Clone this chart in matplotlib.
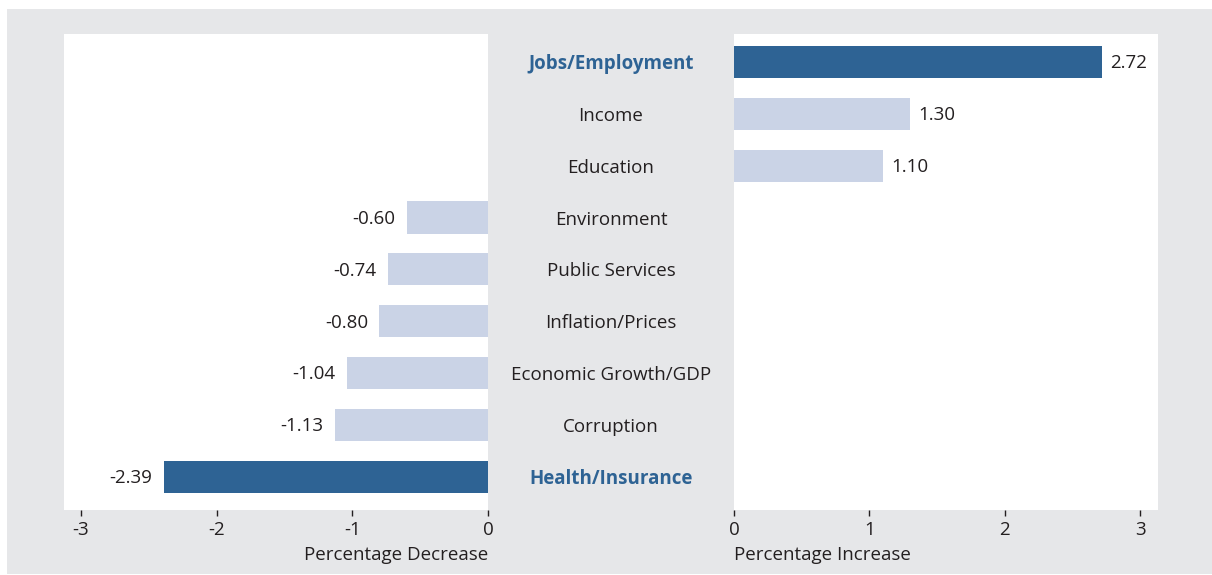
import matplotlib.pyplot as plt
from matplotlib.patches import Rectangle
from matplotlib.transforms import blended_transform_factory

plt.rcParams['font.family'] = ['Open Sans', 'DejaVu Sans']

categories = ['Jobs/Employment', 'Income', 'Education', 'Environment',
              'Public Services', 'Inflation/Prices', 'Economic Growth/GDP',
              'Corruption', 'Health/Insurance']
values = [2.72, 1.30, 1.10, -0.60, -0.74, -0.80, -1.04, -1.13, -2.39]
highlight = ['Jobs/Employment', 'Health/Insurance']

dark_blue = '#2e6394'
light_blue = '#cad3e6'
bg_gray = '#e6e7e9'
text_col = '#231f20'
fs = 13.5

W, H = 1212, 575
fig = plt.figure(figsize=(W / 100, H / 100), dpi=100)
fig.add_artist(Rectangle((7 / W, 1 - 574 / H), 1 - 7 / W, 565 / H,
                         transform=fig.transFigure, facecolor=bg_gray,
                         edgecolor='none', zorder=-5))

ax_l = fig.add_axes([64 / W, 1 - 510 / H, 424 / W, 476 / H])
ax_r = fig.add_axes([734 / W, 1 - 510 / H, 424 / W, 476 / H])

ypos = list(range(len(categories)))
colors = [dark_blue if c in highlight else light_blue for c in categories]

for ax in (ax_l, ax_r):
    ax.set_facecolor('white')
    for s in ax.spines.values():
        s.set_visible(False)
    ax.set_ylim(8.64, -0.54)
    ax.set_yticks([])
    ax.tick_params(axis='x', direction='out', length=4, width=1,
                   color=text_col, labelcolor=text_col, labelsize=fs, pad=4)

neg = [(y, v, c) for y, v, c in zip(ypos, values, colors) if v < 0]
pos = [(y, v, c) for y, v, c in zip(ypos, values, colors) if v >= 0]

ax_l.barh([p[0] for p in neg], [p[1] for p in neg], height=0.62,
          color=[p[2] for p in neg])
ax_r.barh([p[0] for p in pos], [p[1] for p in pos], height=0.62,
          color=[p[2] for p in pos])

for y, v, c in neg:
    ax_l.annotate(f'{v:.2f}', (v, y), xytext=(-8, -1), textcoords='offset points',
                  ha='right', va='center', fontsize=fs, color=text_col)
for y, v, c in pos:
    ax_r.annotate(f'{v:.2f}', (v, y), xytext=(6, -1), textcoords='offset points',
                  ha='left', va='center', fontsize=fs, color=text_col)

ax_l.set_xlim(-3.125, 0)
ax_l.set_xticks([-3, -2, -1, 0])
ax_l.set_xticklabels(['-3', '-2', '-1', '0'])
ax_r.set_xlim(0, 3.133)
ax_r.set_xticks([0, 1, 2, 3])

ax_l.set_xlabel('Percentage Decrease', fontsize=fs, color=text_col,
                loc='right', labelpad=5)
ax_r.set_xlabel('Percentage Increase', fontsize=fs, color=text_col,
                loc='left', labelpad=5)

# category names sit in the gap between the two panels
trans = blended_transform_factory(ax_l.transAxes, ax_l.transData)
mid = (611 - 64) / 424
for y, c in zip(ypos, categories):
    bold = c in highlight
    ax_l.annotate(c, (mid, y), xycoords=trans, xytext=(0, -1.5),
                  textcoords='offset points', ha='center', va='center',
                  fontsize=fs, fontweight='bold' if bold else 'normal',
                  color=dark_blue if bold else text_col, annotation_clip=False)

fig.savefig('out.png', dpi=100, facecolor='white')
